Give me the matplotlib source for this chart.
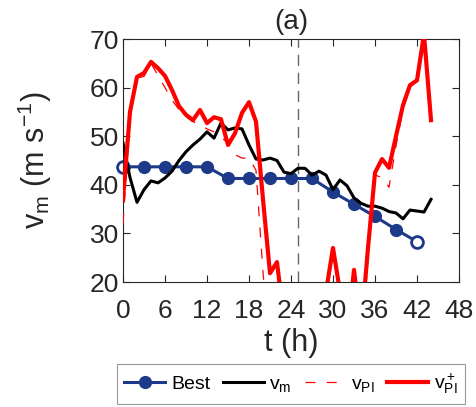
import numpy as np
import matplotlib
matplotlib.use('Agg')
import matplotlib.pyplot as plt

plt.rcParams['font.family'] = ['Liberation Sans', 'DejaVu Sans']
plt.rcParams['mathtext.fontset'] = 'custom'
plt.rcParams['mathtext.rm'] = 'Liberation Sans'
plt.rcParams['mathtext.it'] = 'Liberation Sans'

# hourly series
t = np.arange(0, 45)
v_m = [48.6, 41.5, 36.4, 39.0, 40.8, 40.4, 41.4, 42.8, 45.0, 46.8,
       48.2, 49.4, 50.9, 49.6, 52.7, 51.3, 51.7, 51.5, 48.2, 45.3,
       45.1, 45.5, 45.0, 42.6, 42.3, 43.4, 43.4, 42.0, 42.8, 42.0,
       39.0, 41.0, 39.8, 37.3, 36.2, 35.6, 35.6, 35.2, 34.5, 34.2,
       33.0, 34.8, 34.6, 34.4, 37.0]
v_pi_plus = [37.0, 55.0, 62.2, 63.0, 65.3, 64.0, 62.4, 59.5, 56.2, 54.4,
             53.3, 55.4, 52.7, 53.9, 53.5, 48.2, 50.6, 54.8, 57.0, 53.0,
             37.0, 21.8, 24.1, 12.0, 5.0, 5.0, 5.0, 5.0, 10.0, 18.0,
             27.0, 18.0, 8.0, 22.5, 10.0, 27.0, 42.5, 45.3, 43.5, 50.0,
             56.4, 60.5, 61.5, 71.0, 53.3]
v_pi = [32.0, 54.0, 62.0, 62.3, 65.0, 62.5, 60.0, 57.4, 55.5, 54.0,
        53.0, 52.3, 51.5, 50.9, 49.8, 48.6, 46.2, 45.5, 45.5, 43.0,
        22.0, 5.0, 5.0, 5.0, 5.0, 5.0, 5.0, 5.0, 5.0, 5.0,
        10.0, 5.0, 5.0, 10.0, 5.0, 25.0, 42.0, 41.5, 39.5, 48.0,
        55.5, 60.0, 61.5, 70.5, 51.0]

# best track, 3-hourly
t_best = np.arange(0, 43, 3)
v_best = [43.7, 43.7, 43.7, 43.7, 43.7, 41.3, 41.3, 41.3, 41.3, 41.3,
          38.5, 36.0, 33.5, 30.8, 28.3]

t_mark = 25

navy = '#1d3a8a'
txt = '#262626'

fig = plt.figure(figsize=(4.76, 4.07), dpi=100)
ax = fig.add_axes([123/476, 125/407, 336/476, 243/407])

ax.plot(t_best, v_best, '-o', color=navy, lw=2.2, ms=8.5, mec=navy, mfc=navy,
        label='Best', clip_on=False, zorder=2)
ax.plot([t_best[0], t_best[-1]], [v_best[0], v_best[-1]], 'o', color=navy, ms=8.5,
        mec=navy, mfc='white', mew=2, clip_on=False, zorder=2)
ax.plot(t, v_m, color='k', lw=2.2, label=r'$\mathregular{v_m}$', zorder=3)
ax.plot(t, v_pi, color='red', lw=0.9, dashes=(8, 9), label=r'$\mathregular{v_{PI}}$', zorder=4)
ax.plot(t, v_pi_plus, color='red', lw=3.0, label=r'$\mathregular{v_{PI}^+}$', zorder=5)
ax.axvline(t_mark, color='0.4', lw=1.0, dashes=(8, 5), zorder=1)

ax.set_xlim(0, 48)
ax.set_ylim(20, 70)
ax.set_xticks(np.arange(0, 49, 6))
ax.set_yticks(np.arange(20, 71, 10))
ax.tick_params(direction='in', top=True, right=True, length=5, width=0.8,
               labelsize=19, colors=txt)
ax.tick_params(axis='x', pad=12)
ax.tick_params(axis='y', pad=3)
for s in ax.spines.values():
    s.set_color('0.15')
    s.set_linewidth(0.8)

ax.set_xlabel('t (h)', fontsize=22, color=txt)
ax.xaxis.set_label_coords(0.5, -0.19)
ax.xaxis.label.set_va('top')
ax.set_ylabel(r'$\mathregular{v_m\ (m\ s^{-1})}$', fontsize=22, color=txt)
ax.yaxis.set_label_coords(-0.205, 0.5)
ax.set_title('(a)', fontsize=20, color=txt, pad=7)

leg = ax.legend(loc='upper center', bbox_to_anchor=(0.5, -0.337), ncol=4,
                fontsize=14, frameon=True, fancybox=False, edgecolor='0.5',
                handlelength=2.1, handletextpad=0.3, columnspacing=0.65,
                borderpad=0.4, borderaxespad=0)
leg.get_frame().set_linewidth(0.8)
for tx in leg.get_texts():
    tx.set_color('k')

fig.savefig('out.png', dpi=100)
